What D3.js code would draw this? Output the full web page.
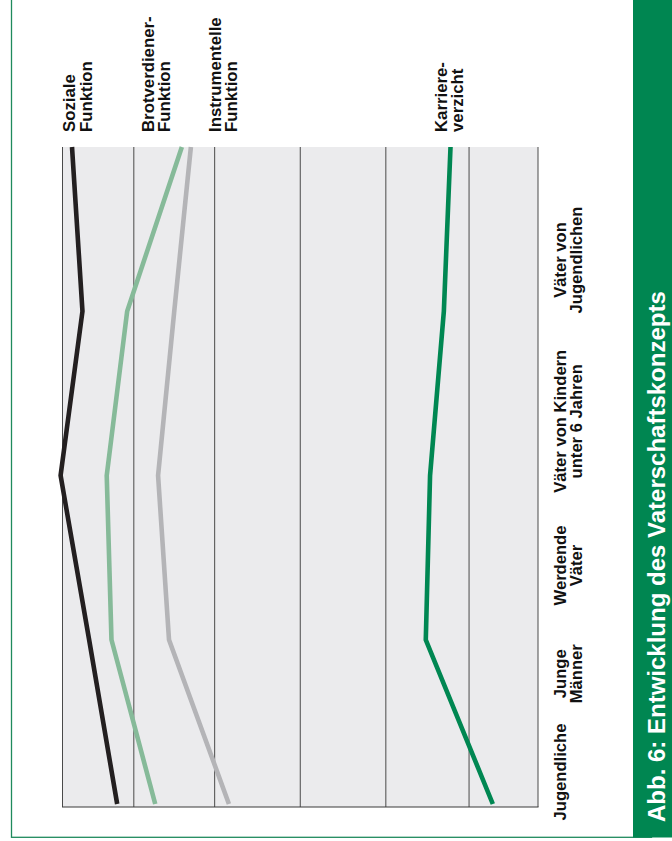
<!DOCTYPE html>
<html lang="de">
<head>
<meta charset="utf-8">
<title>Entwicklung des Vaterschaftskonzepts</title>
<script src="https://cdn.jsdelivr.net/npm/d3@7"></script>
<style>
  html, body { margin: 0; padding: 0; background: #ffffff; }
  svg { display: block; }
  text { font-family: "Liberation Sans", Arial, Helvetica, sans-serif; font-weight: bold; }
</style>
</head>
<body>
<svg id="chart" width="672" height="841"></svg>
<script>
// Lebensphasen (von unten nach oben im gedrehten Diagramm)
const categories = [
  "Jugendliche",
  "Junge Männer",
  "Werdende Väter",
  "Väter von Kindern unter 6 Jahren",
  "Väter von Jugendlichen"
];
const categoryLines = [
  ["Jugendliche"],
  ["Junge", "Männer"],
  ["Werdende", "Väter"],
  ["Väter von Kindern", "unter 6 Jahren"],
  ["Väter von", "Jugendlichen"]
];

// Ausprägung je Konzept (Skala 0–100), gleiche Reihenfolge wie categories
const sozialeFunktion       = [11.5, 5.6, -0.4, 4.2, 2.0];
const brotverdienerFunktion = [19.5, 10.3, 9.3, 13.6, 25.1];
const instrumentelleFunktion= [35.0, 22.4, 20.1, 23.5, 27.0];
const karriereverzicht      = [90.5, 76.4, 77.3, 80.2, 81.6];

const seriesNames = ["Soziale Funktion", "Brotverdiener-Funktion", "Instrumentelle Funktion", "Karriereverzicht"];
const seriesLabelLines = [["Soziale", "Funktion"], ["Brotverdiener-", "Funktion"], ["Instrumentelle", "Funktion"], ["Karriere-", "verzicht"]];

// Rasterlinien der Werteskala
const gridValues = [0, 15, 32, 50, 68, 85.5, 100];

const titleText = "Abb. 6: Entwicklung des Vaterschaftskonzepts";

// ---- Layout ----
const W = 672, H = 841;
const plot = { left: 62.5, right: 538, top: 147, bottom: 807, pointBottom: 804 };
const colors = ["#231f20", "#86ba99", "#b4b4b7", "#008752"];
const green = "#008651";
// Beschriftungsversatz der Konzepte (px, relativ zum Linienende oben)
const seriesLabelShift = [3, -28, 30, -4];
// Beschriftungsversatz der Lebensphasen (px, relativ zum Datenpunkt)
const categoryLabelShift = [-32, 34, 90, 110, 113];

const svg = d3.select("#chart");

const x = d3.scaleLinear().domain([0, 100]).range([plot.left, plot.right]);
const y = d3.scalePoint().domain(categories).range([plot.pointBottom, plot.top]);

// Rahmen
svg.append("rect")
  .attr("x", 11.5).attr("y", -5)
  .attr("width", 640).attr("height", 842.3)
  .attr("fill", "none")
  .attr("stroke", "#1f8a5d")
  .attr("stroke-width", 1.3);

// Titelleiste
svg.append("rect")
  .attr("x", 633).attr("y", 0)
  .attr("width", W - 633).attr("height", 837.5)
  .attr("fill", green);

svg.append("text")
  .attr("transform", `translate(665,822) rotate(-90)`)
  .attr("text-anchor", "start")
  .attr("fill", "#ffffff")
  .style("font-size", "24px")
  .text(titleText);

// Diagrammfläche
svg.append("rect")
  .attr("x", x(0)).attr("y", plot.top)
  .attr("width", x(100) - x(0)).attr("height", plot.bottom - plot.top)
  .attr("fill", "#ebebed");

svg.append("g").selectAll("line")
  .data(gridValues)
  .join("line")
  .attr("x1", d => x(d)).attr("x2", d => x(d))
  .attr("y1", plot.top).attr("y2", plot.bottom)
  .attr("stroke", "#4a4a4a")
  .attr("stroke-width", 1);

svg.append("line")
  .attr("x1", x(0) - 0.5).attr("x2", x(100) + 0.5)
  .attr("y1", plot.bottom).attr("y2", plot.bottom)
  .attr("stroke", "#3a3a3a")
  .attr("stroke-width", 1.2);

// Linien
const seriesData = [sozialeFunktion, brotverdienerFunktion, instrumentelleFunktion, karriereverzicht];
const line = d3.line()
  .x(d => x(d.v))
  .y(d => y(d.c));

svg.append("g").selectAll("path")
  .data(seriesData)
  .join("path")
  .attr("d", vals => line(vals.map((v, i) => ({ v, c: categories[i] }))))
  .attr("fill", "none")
  .attr("stroke", (d, i) => colors[i])
  .attr("stroke-width", 4.6)
  .attr("stroke-linejoin", "miter")
  .attr("stroke-linecap", "butt");

// Konzept-Beschriftungen oben
const lastIdx = categories.length - 1;
svg.append("g").selectAll("text")
  .data(seriesLabelLines)
  .join("text")
  .attr("transform", (d, i) => `translate(${x(seriesData[i][lastIdx]) + seriesLabelShift[i]},132) rotate(-90)`)
  .attr("text-anchor", "start")
  .attr("fill", "#111111")
  .style("font-size", "16.8px")
  .selectAll("tspan")
  .data(d => d)
  .join("tspan")
  .attr("x", 0)
  .attr("dy", (d, j) => j === 0 ? 0 : 16.5)
  .text(d => d);

// Lebensphasen rechts
svg.append("g").selectAll("text")
  .data(categoryLines)
  .join("text")
  .attr("transform", (d, i) => `translate(566,${y(categories[i]) + categoryLabelShift[i]}) rotate(-90)`)
  .attr("text-anchor", "middle")
  .attr("fill", "#111111")
  .style("font-size", "16.6px")
  .selectAll("tspan")
  .data(d => d)
  .join("tspan")
  .attr("x", 0)
  .attr("dy", (d, j) => j === 0 ? 0 : 16)
  .text(d => d);
</script>
</body>
</html>
